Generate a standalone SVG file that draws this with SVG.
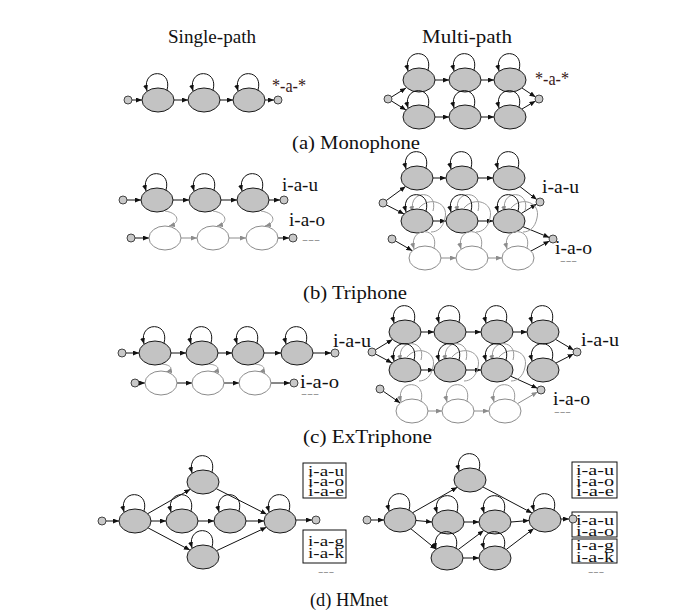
<svg xmlns="http://www.w3.org/2000/svg" width="695" height="614" viewBox="0 0 695 614">
<style>
.n{fill:#c3c3c3;stroke:#1a1a1a;stroke-width:1}
.w{fill:#fff;stroke:#8c8c8c;stroke-width:1}
.s{fill:#c8c8c8;stroke:#333;stroke-width:0.9}
.e{fill:none;stroke:#111;stroke-width:1;marker-end:url(#ab)}
.eg{fill:none;stroke:#8c8c8c;stroke-width:1;marker-end:url(#ag)}
.lp{fill:none;stroke:#111;stroke-width:1;marker-end:url(#ab)}
.lg{fill:none;stroke:#999;stroke-width:1;marker-end:url(#ag)}
.arc{fill:none;stroke:#9a9a9a;stroke-width:1}
text{font-family:"Liberation Serif","Times New Roman",serif;fill:#111}
.t{font-size:19px}
.l{font-size:18px}
.b{font-size:14px}
.d{font-size:12px;fill:#999}
.bx{fill:#fff;stroke:#111;stroke-width:1}
</style>
<defs>
<marker id="ab" viewBox="0 0 6 5" refX="6" refY="2.5" markerWidth="6" markerHeight="5" markerUnits="userSpaceOnUse" orient="auto"><path d="M0,0 L6,2.5 L0,5 z" fill="#111"/></marker>
<marker id="ag" viewBox="0 0 6 5" refX="6" refY="2.5" markerWidth="6" markerHeight="5" markerUnits="userSpaceOnUse" orient="auto"><path d="M0,0 L6,2.5 L0,5 z" fill="#8c8c8c"/></marker>
</defs>
<rect width="695" height="614" fill="#fff"/>

<g id="titles">
<text class="t" x="168" y="43" textLength="88" lengthAdjust="spacingAndGlyphs">Single-path</text>
<text class="t" x="422" y="43" textLength="90" lengthAdjust="spacingAndGlyphs">Multi-path</text>
<text class="t" x="292" y="149" textLength="128" lengthAdjust="spacingAndGlyphs">(a) Monophone</text>
<text class="t" x="303" y="299" textLength="104" lengthAdjust="spacingAndGlyphs">(b) Triphone</text>
<text class="t" x="303" y="443" textLength="129" lengthAdjust="spacingAndGlyphs">(c) ExTriphone</text>
<text class="t" x="310" y="606" textLength="78" lengthAdjust="spacingAndGlyphs">(d) HMnet</text>
</g>

<g id="connectors">
<path class="e" d="M132,100 H142"/><path class="e" d="M174,100 H188"/><path class="e" d="M220,100 H233"/><path class="e" d="M265,100 H274"/>
<path class="e" d="M391.5,97 L406,88"/><path class="e" d="M391.5,101 L406,110"/>
<path class="e" d="M435,80 H449"/><path class="e" d="M481,80 H494"/>
<path class="e" d="M435,117 H449"/><path class="e" d="M481,117 H494"/>
<path class="e" d="M522,88 L535.5,97"/><path class="e" d="M522,109 L535.5,101"/>
<path class="e" d="M127,200 H141"/><path class="e" d="M173,200 H189"/><path class="e" d="M221,200 H237"/><path class="e" d="M269,200 H280"/>
<path class="e" d="M135,238 H149"/><path class="eg" d="M181,238 H197"/><path class="eg" d="M229,238 H246"/><path class="e" d="M278,238 H289"/>
<path class="lg" d="M165,211 c14,2 16,12 4,15"/><path class="lg" d="M213,211 c14,2 16,12 4,15"/><path class="lg" d="M261,211 c14,2 16,12 4,15"/>
<path class="e" d="M386.2,200.6 L405.6,186.4"/><path class="e" d="M386.5,205 L404,214"/>
<path class="e" d="M433,178 H446"/><path class="e" d="M478,178 H493"/>
<path class="e" d="M433,221 H446"/><path class="e" d="M478,221 H493"/>
<path class="e" d="M520,186.6 L536.8,199.6"/><path class="e" d="M521.4,213.4 L536.6,204.1"/>
<path class="e" d="M523,226.7 L549.3,237.5"/>
<path class="e" d="M395.5,241 L412.3,250.7"/>
<path class="eg" d="M441,258 H456"/><path class="eg" d="M488,258 H502"/>
<path class="e" d="M531,251 L549.5,241"/>
<path class="e" d="M126,353 H139"/><path class="e" d="M171,353 H186"/><path class="e" d="M218,353 H232"/><path class="e" d="M264,353 H281"/><path class="e" d="M313,353 H331"/>
<path class="e" d="M139,383 H145"/><path class="e" d="M177,383 H192"/><path class="e" d="M224,383 H239"/><path class="e" d="M271,383 H290"/>
<path class="lg" d="M162,364 c10,1 12,6 4,8"/><path class="lg" d="M209,364 c10,1 12,6 4,8"/><path class="lg" d="M255,364 c10,1 12,6 4,8"/>
<path class="e" d="M375.4,349.9 L392.5,339.5"/><path class="e" d="M375.5,354 L392,362.9"/>
<path class="e" d="M421,332 H434"/><path class="e" d="M466,332 H481"/><path class="e" d="M513,332 H527"/>
<path class="e" d="M421,370 H434"/><path class="e" d="M466,370 H481"/>
<path class="e" d="M555.6,339.4 L573.6,350"/><path class="e" d="M556,363 L573.5,354"/>
<path class="e" d="M510.7,376.2 L537.4,388.3"/>
<path class="e" d="M383.3,391.3 L400.2,402.9"/>
<path class="eg" d="M428,411 H442"/><path class="eg" d="M474,411 H489"/>
<path class="eg" d="M517.6,403.6 L537.5,392"/>
<path class="e" d="M106,521 H119"/>
<path class="e" d="M147.7,513.7 L190.3,489.3"/>
<path class="e" d="M151,521 H166"/>
<path class="e" d="M148.1,527.9 L189.9,550.1"/>
<path class="e" d="M198,521 H214"/>
<path class="e" d="M246,521 H264"/>
<path class="e" d="M216.3,488.7 L266.7,514.3"/>
<path class="e" d="M216.6,550.7 L266.4,527.3"/>
<path class="e" d="M296,520 H312"/>
<path class="e" d="M371,520 H384"/>
<path class="e" d="M412.7,512.7 L457.3,487.3"/>
<path class="e" d="M416,520.5 L432,522"/>
<path class="e" d="M410.9,528.8 L436.1,549.2"/>
<path class="e" d="M464,522 H479"/>
<path class="e" d="M463,558 H479"/>
<path class="e" d="M458.3,549.5 L483.7,530.5"/>
<path class="e" d="M483,487 L532,513"/>
<path class="e" d="M511,522 L529,520.5"/>
<path class="e" d="M506.2,549.5 L533.8,528.5"/>
<path class="e" d="M561,519 H569"/>
</g>

<g id="a-s-in"><circle cx="128" cy="100" r="4" class="s"/></g>
<g id="a-s-1"><ellipse cx="158" cy="100" rx="16" ry="12" class="n"/><path class="lp" d="M167,90 c6,-22 -26,-22 -20,1"/></g>
<g id="a-s-2"><ellipse cx="204" cy="100" rx="16" ry="12" class="n"/><path class="lp" d="M213,90 c6,-22 -26,-22 -20,1"/></g>
<g id="a-s-3"><ellipse cx="249" cy="100" rx="16" ry="12" class="n"/><path class="lp" d="M258,90 c6,-22 -26,-22 -20,1"/></g>
<g id="a-s-out"><circle cx="278" cy="100" r="4" class="s"/><text class="l" x="272" y="92" textLength="34" lengthAdjust="spacingAndGlyphs" style="fill:#3a1a1a">*-a-*</text></g>
<g id="a-m-in"><circle cx="388" cy="99" r="4" class="s"/></g>
<g id="a-m-t1"><ellipse cx="419" cy="80" rx="16" ry="12" class="n"/><path class="lp" d="M428,70 c6,-22 -26,-22 -20,1"/></g>
<g id="a-m-t2"><ellipse cx="465" cy="80" rx="16" ry="12" class="n"/><path class="lp" d="M474,70 c6,-22 -26,-22 -20,1"/></g>
<g id="a-m-t3"><ellipse cx="510" cy="80" rx="16" ry="12" class="n"/><path class="lp" d="M519,70 c6,-22 -26,-22 -20,1"/></g>
<g id="a-m-b1"><ellipse cx="419" cy="117" rx="16" ry="12" class="n"/><path class="lp" d="M428,107 c6,-22 -26,-22 -20,1"/></g>
<g id="a-m-b2"><ellipse cx="465" cy="117" rx="16" ry="12" class="n"/><path class="lp" d="M474,107 c6,-22 -26,-22 -20,1"/></g>
<g id="a-m-b3"><ellipse cx="510" cy="117" rx="16" ry="12" class="n"/><path class="lp" d="M519,107 c6,-22 -26,-22 -20,1"/></g>
<g id="a-m-out"><circle cx="539" cy="99" r="4" class="s"/><text class="l" x="535" y="85" textLength="34" lengthAdjust="spacingAndGlyphs" style="fill:#3a1a1a">*-a-*</text></g>

<g id="b-s-in1"><circle cx="123" cy="200" r="4" class="s"/></g>
<g id="b-s-t1"><ellipse cx="157" cy="200" rx="16" ry="12" class="n"/><path class="lp" d="M166,190 c6,-22 -26,-22 -20,1"/></g>
<g id="b-s-t2"><ellipse cx="205" cy="200" rx="16" ry="12" class="n"/><path class="lp" d="M214,190 c6,-22 -26,-22 -20,1"/></g>
<g id="b-s-t3"><ellipse cx="253" cy="200" rx="16" ry="12" class="n"/><path class="lp" d="M262,190 c6,-22 -26,-22 -20,1"/></g>
<g id="b-s-out1"><circle cx="284" cy="200" r="4" class="s"/><text class="l" x="282" y="191" textLength="36" lengthAdjust="spacingAndGlyphs">i-a-u</text></g>
<g id="b-s-in2"><circle cx="131" cy="238" r="4" class="s"/></g>
<g id="b-s-w1"><ellipse cx="165" cy="238" rx="16" ry="12" class="w"/></g>
<g id="b-s-w2"><ellipse cx="213" cy="238" rx="16" ry="12" class="w"/></g>
<g id="b-s-w3"><ellipse cx="262" cy="238" rx="16" ry="12" class="w"/></g>
<g id="b-s-out2"><circle cx="293" cy="238" r="4" class="s"/><text class="l" x="289" y="226" textLength="36" lengthAdjust="spacingAndGlyphs">i-a-o</text><text class="d" x="302" y="244" textLength="18" lengthAdjust="spacingAndGlyphs">---</text></g>

<g id="b-m-in1"><circle cx="383" cy="203" r="4" class="s"/></g>
<g id="b-m-t1"><ellipse cx="417" cy="178" rx="16" ry="12" class="n"/><path class="lp" d="M426,168 c6,-22 -26,-22 -20,1"/></g>
<g id="b-m-t2"><ellipse cx="462" cy="178" rx="16" ry="12" class="n"/><path class="lp" d="M471,168 c6,-22 -26,-22 -20,1"/></g>
<g id="b-m-t3"><ellipse cx="509" cy="178" rx="16" ry="12" class="n"/><path class="lp" d="M518,168 c6,-22 -26,-22 -20,1"/></g>
<g id="b-m-m1"><path class="arc" d="M419,208 c10,-12 30,-6 26,10 c-2,10 -8,14 -14,14"/><path class="lg" d="M433,211 c6,-22 -26,-22 -20,1"/><ellipse cx="417" cy="221" rx="16" ry="12" class="n"/><path class="lp" d="M426,211 c6,-22 -26,-22 -20,1"/></g>
<g id="b-m-m2"><path class="arc" d="M464,208 c10,-12 30,-6 26,10 c-2,10 -8,14 -14,14"/><path class="lg" d="M478,211 c6,-22 -26,-22 -20,1"/><ellipse cx="462" cy="221" rx="16" ry="12" class="n"/><path class="lp" d="M471,211 c6,-22 -26,-22 -20,1"/></g>
<g id="b-m-m3"><path class="arc" d="M511,208 c10,-12 30,-6 26,10 c-2,10 -8,14 -14,14"/><path class="lg" d="M525,211 c6,-22 -26,-22 -20,1"/><ellipse cx="509" cy="221" rx="16" ry="12" class="n"/><path class="lp" d="M518,211 c6,-22 -26,-22 -20,1"/></g>
<g id="b-m-out1"><circle cx="540" cy="202" r="4" class="s"/><text class="l" x="542" y="193" textLength="37" lengthAdjust="spacingAndGlyphs">i-a-u</text></g>
<g id="b-m-in2"><circle cx="392" cy="239" r="4" class="s"/></g>
<g id="b-m-w1"><ellipse cx="425" cy="258" rx="16" ry="12" class="w"/><path class="lg" d="M434,248 c6,-22 -26,-22 -20,1"/></g>
<g id="b-m-w2"><ellipse cx="472" cy="258" rx="16" ry="12" class="w"/><path class="lg" d="M481,248 c6,-22 -26,-22 -20,1"/></g>
<g id="b-m-w3"><ellipse cx="518" cy="258" rx="16" ry="12" class="w"/><path class="lg" d="M527,248 c6,-22 -26,-22 -20,1"/></g>
<g id="b-m-out2"><circle cx="553" cy="239" r="4" class="s"/><text class="l" x="555" y="254" textLength="37" lengthAdjust="spacingAndGlyphs">i-a-o</text><text class="d" x="560" y="265" textLength="17" lengthAdjust="spacingAndGlyphs">---</text></g>

<g id="c-s-in1"><circle cx="122" cy="353" r="4" class="s"/></g>
<g id="c-s-t1"><ellipse cx="155" cy="353" rx="16" ry="12" class="n"/><path class="lp" d="M164,343 c6,-22 -26,-22 -20,1"/></g>
<g id="c-s-t2"><ellipse cx="202" cy="353" rx="16" ry="12" class="n"/><path class="lp" d="M211,343 c6,-22 -26,-22 -20,1"/></g>
<g id="c-s-t3"><ellipse cx="248" cy="353" rx="16" ry="12" class="n"/><path class="lp" d="M257,343 c6,-22 -26,-22 -20,1"/></g>
<g id="c-s-t4"><ellipse cx="297" cy="353" rx="16" ry="12" class="n"/><path class="lp" d="M306,343 c6,-22 -26,-22 -20,1"/></g>
<g id="c-s-out1"><circle cx="335" cy="353" r="4" class="s"/><text class="l" x="333" y="347" textLength="38" lengthAdjust="spacingAndGlyphs">i-a-u</text></g>
<g id="c-s-in2"><circle cx="135" cy="383" r="4" class="s"/></g>
<g id="c-s-w1"><ellipse cx="161" cy="383" rx="16" ry="12" class="w"/></g>
<g id="c-s-w2"><ellipse cx="208" cy="383" rx="16" ry="12" class="w"/></g>
<g id="c-s-w3"><ellipse cx="255" cy="383" rx="16" ry="12" class="w"/></g>
<g id="c-s-out2"><circle cx="294" cy="383" r="4" class="s"/><text class="l" x="300" y="388" textLength="39" lengthAdjust="spacingAndGlyphs">i-a-o</text><text class="d" x="301" y="398" textLength="18" lengthAdjust="spacingAndGlyphs">---</text></g>

<g id="c-m-in1"><circle cx="372" cy="352" r="4" class="s"/></g>
<g id="c-m-t1"><ellipse cx="405" cy="332" rx="16" ry="12" class="n"/><path class="lp" d="M414,322 c6,-22 -26,-22 -20,1"/></g>
<g id="c-m-t2"><ellipse cx="450" cy="332" rx="16" ry="12" class="n"/><path class="lp" d="M459,322 c6,-22 -26,-22 -20,1"/></g>
<g id="c-m-t3"><ellipse cx="497" cy="332" rx="16" ry="12" class="n"/><path class="lp" d="M506,322 c6,-22 -26,-22 -20,1"/></g>
<g id="c-m-t4"><ellipse cx="543" cy="332" rx="16" ry="12" class="n"/><path class="lp" d="M552,322 c6,-22 -26,-22 -20,1"/></g>
<g id="c-m-m1"><path class="arc" d="M407,357 c10,-12 30,-6 26,10 c-2,10 -8,14 -14,14"/><path class="lg" d="M421,360 c6,-22 -26,-22 -20,1"/><ellipse cx="405" cy="370" rx="16" ry="12" class="n"/><path class="lp" d="M414,360 c6,-22 -26,-22 -20,1"/></g>
<g id="c-m-m2"><path class="arc" d="M452,357 c10,-12 30,-6 26,10 c-2,10 -8,14 -14,14"/><path class="lg" d="M466,360 c6,-22 -26,-22 -20,1"/><ellipse cx="450" cy="370" rx="16" ry="12" class="n"/><path class="lp" d="M459,360 c6,-22 -26,-22 -20,1"/></g>
<g id="c-m-m3"><path class="arc" d="M499,357 c10,-12 30,-6 26,10 c-2,10 -8,14 -14,14"/><path class="lg" d="M513,360 c6,-22 -26,-22 -20,1"/><ellipse cx="497" cy="370" rx="16" ry="12" class="n"/><path class="lp" d="M506,360 c6,-22 -26,-22 -20,1"/></g>
<g id="c-m-m4"><ellipse cx="543" cy="370" rx="16" ry="12" class="n"/><path class="lp" d="M552,360 c6,-22 -26,-22 -20,1"/></g>
<g id="c-m-out1"><circle cx="577" cy="352" r="4" class="s"/><text class="l" x="581" y="346" textLength="38" lengthAdjust="spacingAndGlyphs">i-a-u</text></g>
<g id="c-m-in2"><circle cx="380" cy="389" r="4" class="s"/></g>
<g id="c-m-w1"><ellipse cx="412" cy="411" rx="16" ry="12" class="w"/><path class="lg" d="M421,401 c6,-22 -26,-22 -20,1"/></g>
<g id="c-m-w2"><ellipse cx="458" cy="411" rx="16" ry="12" class="w"/><path class="lg" d="M467,401 c6,-22 -26,-22 -20,1"/></g>
<g id="c-m-w3"><ellipse cx="505" cy="411" rx="16" ry="12" class="w"/><path class="lg" d="M514,401 c6,-22 -26,-22 -20,1"/></g>
<g id="c-m-out2"><circle cx="541" cy="390" r="4" class="s"/><text class="l" x="553" y="405" textLength="37" lengthAdjust="spacingAndGlyphs">i-a-o</text><text class="d" x="554" y="416" textLength="17" lengthAdjust="spacingAndGlyphs">---</text></g>

<g id="d-l-in"><circle cx="102" cy="521" r="4" class="s"/></g>
<g id="d-l-a"><ellipse cx="135" cy="521" rx="16" ry="12" class="n"/><path class="lp" d="M144,511 c6,-22 -26,-22 -20,1"/></g>
<g id="d-l-b"><ellipse cx="203" cy="482" rx="16" ry="12" class="n"/><path class="lp" d="M212,472 c6,-22 -26,-22 -20,1"/></g>
<g id="d-l-c1"><ellipse cx="182" cy="521" rx="16" ry="12" class="n"/><path class="lp" d="M191,511 c6,-22 -26,-22 -20,1"/></g>
<g id="d-l-c2"><ellipse cx="230" cy="521" rx="16" ry="12" class="n"/><path class="lp" d="M239,511 c6,-22 -26,-22 -20,1"/></g>
<g id="d-l-d"><ellipse cx="203" cy="557" rx="16" ry="12" class="n"/><path class="lp" d="M212,547 c6,-22 -26,-22 -20,1"/></g>
<g id="d-l-e"><ellipse cx="280" cy="521" rx="16" ry="12" class="n"/><path class="lp" d="M289,511 c6,-22 -26,-22 -20,1"/></g>
<g id="d-l-out"><circle cx="316" cy="520" r="4" class="s"/></g>
<g id="d-l-box1"><rect class="bx" x="303" y="463" width="43" height="35"/><text class="b" x="308" y="476" textLength="36" lengthAdjust="spacingAndGlyphs">i-a-u</text><text class="b" x="308" y="486" textLength="36" lengthAdjust="spacingAndGlyphs">i-a-o</text><text class="b" x="308" y="496" textLength="36" lengthAdjust="spacingAndGlyphs">i-a-e</text></g>
<g id="d-l-box2"><rect class="bx" x="303" y="530" width="43" height="33"/><text class="b" x="308" y="546" textLength="36" lengthAdjust="spacingAndGlyphs">i-a-g</text><text class="b" x="308" y="558" textLength="36" lengthAdjust="spacingAndGlyphs">i-a-k</text><text class="d" x="318" y="576" textLength="16" lengthAdjust="spacingAndGlyphs">---</text></g>

<g id="d-r-in"><circle cx="367" cy="520" r="4" class="s"/></g>
<g id="d-r-a"><ellipse cx="400" cy="520" rx="16" ry="12" class="n"/><path class="lp" d="M409,510 c6,-22 -26,-22 -20,1"/></g>
<g id="d-r-b"><ellipse cx="470" cy="480" rx="16" ry="12" class="n"/><path class="lp" d="M479,470 c6,-22 -26,-22 -20,1"/></g>
<g id="d-r-c1"><ellipse cx="448" cy="522" rx="16" ry="12" class="n"/><path class="lp" d="M457,512 c6,-22 -26,-22 -20,1"/></g>
<g id="d-r-c2"><ellipse cx="495" cy="522" rx="16" ry="12" class="n"/><path class="lp" d="M504,512 c6,-22 -26,-22 -20,1"/></g>
<g id="d-r-d1"><ellipse cx="447" cy="558" rx="16" ry="12" class="n"/><path class="lp" d="M456,548 c6,-22 -26,-22 -20,1"/></g>
<g id="d-r-d2"><ellipse cx="495" cy="558" rx="16" ry="12" class="n"/><path class="lp" d="M504,548 c6,-22 -26,-22 -20,1"/></g>
<g id="d-r-e"><ellipse cx="545" cy="520" rx="16" ry="12" class="n"/><path class="lp" d="M554,510 c6,-22 -26,-22 -20,1"/></g>
<g id="d-r-box1"><rect class="bx" x="572" y="462" width="45" height="36"/><text class="b" x="576" y="475" textLength="38" lengthAdjust="spacingAndGlyphs">i-a-u</text><text class="b" x="576" y="486" textLength="38" lengthAdjust="spacingAndGlyphs">i-a-o</text><text class="b" x="576" y="496" textLength="38" lengthAdjust="spacingAndGlyphs">i-a-e</text></g>
<g id="d-r-box2"><rect class="bx" x="572" y="512" width="45" height="25"/><text class="b" x="576" y="525" textLength="38" lengthAdjust="spacingAndGlyphs">i-a-u</text><text class="b" x="576" y="536" textLength="38" lengthAdjust="spacingAndGlyphs">i-a-o</text></g>
<g id="d-r-out"><circle cx="573" cy="519" r="4" class="s"/></g>
<g id="d-r-box3"><rect class="bx" x="572" y="539" width="45" height="24"/><text class="b" x="576" y="550" textLength="38" lengthAdjust="spacingAndGlyphs">i-a-g</text><text class="b" x="576" y="562" textLength="38" lengthAdjust="spacingAndGlyphs">i-a-k</text><text class="d" x="588" y="576" textLength="16" lengthAdjust="spacingAndGlyphs">---</text></g>
</svg>
